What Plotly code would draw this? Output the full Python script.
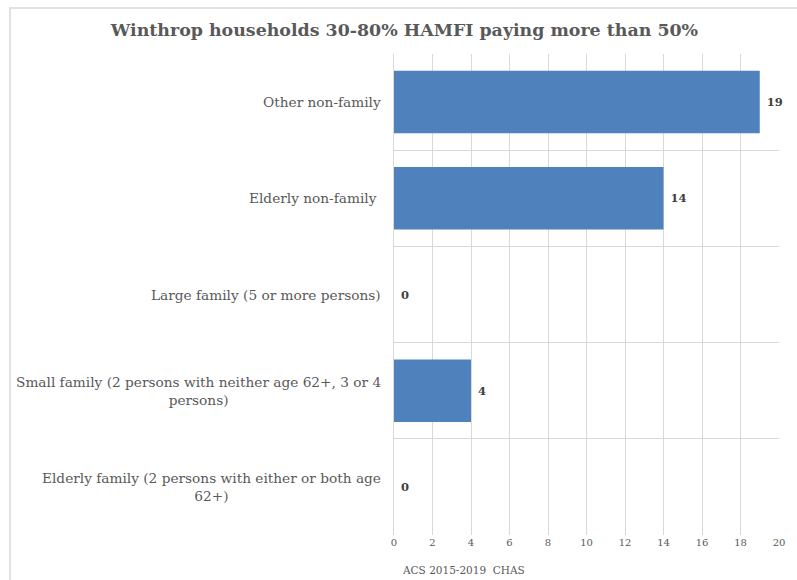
import plotly.graph_objects as go

categories = [
    "Other non-family",
    "Elderly non-family ",
    "Large family (5 or more persons)",
    "Small family (2 persons with neither age 62+, 3 or 4<br>persons)",
    "Elderly family (2 persons with either or both age<br>62+)",
]
values = [19, 14, 0, 4, 0]
x_ticks = [0, 2, 4, 6, 8, 10, 12, 14, 16, 18, 20]
title_text = "Winthrop households 30-80% HAMFI paying more than 50%"
source_text = "ACS 2015-2019\u00a0\u00a0CHAS"

FONT = "DejaVu Serif"

fig = go.Figure()
fig.add_trace(go.Bar(
    y=categories,
    x=values,
    orientation="h",
    marker=dict(color="#4F81BD", line=dict(width=0)),
    texttemplate="\u00a0%{x}",
    textposition="outside",
    textfont=dict(family=FONT, size=11.5, color="#404040", weight="bold"),
    cliponaxis=False,
    width=0.65,
    hoverinfo="x+y",
))

for c in categories:
    fig.add_annotation(
        x=0, xref="paper", y=c, yref="y",
        text=c, showarrow=False, xanchor="right", yanchor="middle",
        align="center", xshift=-11,
        font=dict(family=FONT, size=13.7, color="#595959"),
    )

fig.add_annotation(
    x=0.015, xref="paper", y=-0.073, yref="paper",
    text=source_text, showarrow=False, xanchor="left", yanchor="middle",
    font=dict(family=FONT, size=10.5, color="#595959"),
)

fig.add_shape(
    type="rect", xref="paper", yref="paper",
    x0=-0.9974, x1=1.05, y0=-0.2, y1=1.0956,
    line=dict(color="#d9d9d9", width=1.5), layer="below",
)

fig.update_layout(
    width=797, height=580,
    margin=dict(l=394, r=15, t=54, b=45),
    paper_bgcolor="white", plot_bgcolor="white",
    title=dict(
        text=title_text, x=0.5075, xref="container", xanchor="center",
        y=1 - 30 / 580, yref="container", yanchor="middle",
        font=dict(family=FONT, size=17.4, color="#595959", weight="bold"),
    ),
    showlegend=False,
    xaxis=dict(
        range=[0, 20], tickvals=x_ticks, ticktext=[str(t) for t in x_ticks],
        showgrid=True, gridcolor="#d9d9d9", gridwidth=1,
        zeroline=False, showline=False,
        tickfont=dict(family=FONT, size=10, color="#595959"),
        ticks="", fixedrange=True,
    ),
    yaxis=dict(
        type="category", categoryorder="array", categoryarray=categories,
        autorange="reversed",
        tickson="boundaries", showgrid=True, gridcolor="#d9d9d9", gridwidth=1,
        showticklabels=False, ticks="",
        showline=True, linecolor="#d9d9d9", mirror=False,
        zeroline=False,
    ),
    bargap=0.35,
)

fig.write_html(
    "out.html",
    config={"displayModeBar": False},
    post_script="document.body.style.margin='0';",
)
